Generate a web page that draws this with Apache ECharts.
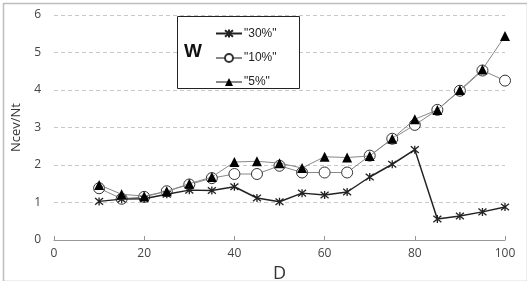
<!DOCTYPE html>
<html>
<head>
<meta charset="utf-8">
<script src="https://cdn.jsdelivr.net/npm/echarts@6/dist/echarts.min.js"></script>
<style>
  html, body { margin: 0; padding: 0; background: #fff; }
  #main { width: 527px; height: 281px; }
</style>
</head>
<body>
<div id="main"></div>
<script>
// D values (x axis)
var dValues = [10, 15, 20, 25, 30, 35, 40, 45, 50, 55, 60, 65, 70, 75, 80, 85, 90, 95, 100];
// Ncev/Nt for each W
var w30 = [1.03, 1.09, 1.1, 1.22, 1.33, 1.32, 1.42, 1.12, 1.02, 1.25, 1.2, 1.28, 1.68, 2.02, 2.41, 0.56, 0.64, 0.75, 0.88];
var w10 = [1.38, 1.1, 1.15, 1.3, 1.48, 1.65, 1.76, 1.76, 1.98, 1.8, 1.8, 1.8, 2.25, 2.7, 3.07, 3.47, 3.98, 4.52, 4.25];
var w5 = [1.47, 1.22, 1.17, 1.3, 1.5, 1.68, 2.08, 2.1, 2.05, 1.92, 2.22, 2.2, 2.24, 2.7, 3.22, 3.47, 4.0, 4.55, 5.44];
var seriesNames = ['"30%"', '"10%"', '"5%"'];
var xTicks = [0, 20, 40, 60, 80, 100];
var yTicks = [0, 1, 2, 3, 4, 5, 6];

var pairs = function (ys) {
	return dValues.map(function (d, i) { return [d, ys[i]]; });
};

var starPath = 'path://M0,0L10,10M10,0L0,10M5,-1L5,11';

var chart = echarts.init(document.getElementById('main'));
chart.setOption({
	animation: false,
	backgroundColor: '#fff',
	textStyle: { fontFamily: 'Open Sans, DejaVu Sans, sans-serif' },
	grid: { left: 54, right: 22, top: 15, bottom: 41, outerBoundsMode: 'none' },
	graphic: [
		{ type: 'rect', left: 1, top: 1, shape: { width: 524, height: 278 },
		  style: { fill: 'none', stroke: '#bdbdbd', lineWidth: 1.5 }, z: -1 },
		{ type: 'rect', left: 177, top: 16, shape: { width: 122, height: 72 },
		  style: { fill: '#fff', stroke: '#222', lineWidth: 1 }, z: 5 },
		{ type: 'text', left: 184, top: 42,
		  style: { text: 'W', fill: '#111', font: 'bold 19px Liberation Sans, Arial, sans-serif' }, z: 6 }
	],
	legend: {
		orient: 'vertical',
		left: 210,
		top: 22,
		itemWidth: 26,
		itemHeight: 10,
		itemGap: 12,
		textStyle: { color: '#222', fontSize: 12, padding: [0, 0, 0, -3], fontFamily: 'Liberation Sans, Arial, sans-serif' },
		data: seriesNames,
		z: 7
	},
	xAxis: {
		type: 'value',
		min: 0, max: 100, interval: 20,
		name: 'D',
		nameLocation: 'middle',
		nameGap: 22,
		nameTextStyle: { fontSize: 18, color: '#333' },
		axisLine: { lineStyle: { color: '#999' } },
		axisTick: { inside: true, length: 4, lineStyle: { color: '#999' } },
		axisLabel: { color: '#444', fontSize: 12, margin: 8,
			formatter: function (v) { return xTicks.indexOf(v) >= 0 ? v : ''; } },
		splitLine: { show: false }
	},
	yAxis: {
		type: 'value',
		min: 0, max: 6, interval: 1,
		name: 'Ncev/Nt',
		nameLocation: 'middle',
		nameGap: 30,
		nameTextStyle: { fontSize: 13, color: '#333' },
		axisLine: { show: false },
		axisTick: { show: false },
		axisLabel: { color: '#444', fontSize: 12, margin: 13,
			formatter: function (v) { return yTicks.indexOf(v) >= 0 ? v : ''; } },
		splitLine: { lineStyle: { color: '#c8c8c8', type: [4, 3] } }
	},
	series: [
		{
			name: seriesNames[0], type: 'line', data: pairs(w30),
			symbol: starPath, symbolSize: 8,
			lineStyle: { color: '#222', width: 1.5 },
			itemStyle: { color: 'none', borderColor: '#222', borderWidth: 1.3 },
			z: 3
		},
		{
			name: seriesNames[1], type: 'line', data: pairs(w10),
			symbol: 'circle', symbolSize: 11,
			lineStyle: { color: '#888', width: 1 },
			itemStyle: { color: '#fff', borderColor: '#333', borderWidth: 1 },
			z: 2
		},
		{
			name: seriesNames[2], type: 'line', data: pairs(w5),
			symbol: 'triangle', symbolSize: 10,
			lineStyle: { color: '#888', width: 1 },
			itemStyle: { color: '#000', borderColor: '#000', borderWidth: 0 },
			z: 4
		}
	]
});
</script>
</body>
</html>
